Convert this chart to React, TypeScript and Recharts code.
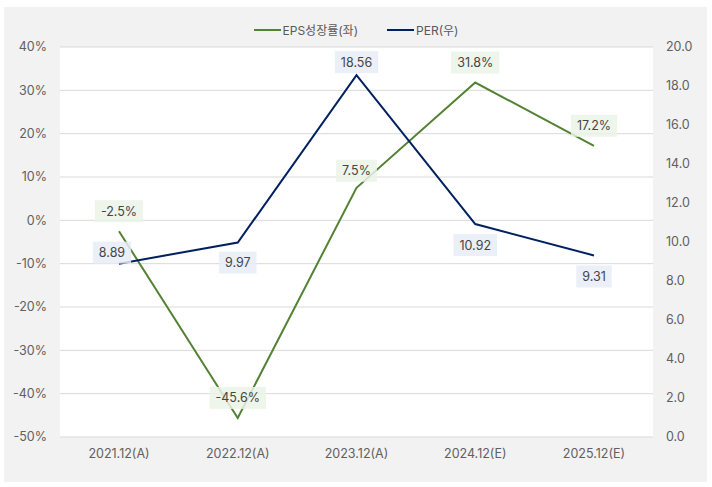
import React from 'react';
import { LineChart, Line, XAxis, YAxis, CartesianGrid, Legend, LabelList } from 'recharts';

const categories = ['2021.12(A)', '2022.12(A)', '2023.12(A)', '2024.12(E)', '2025.12(E)'];
const epsGrowth = [-2.5, -45.6, 7.5, 31.8, 17.2];
const per = [8.89, 9.97, 18.56, 10.92, 9.31];
const leftTicks = [-50, -40, -30, -20, -10, 0, 10, 20, 30, 40];
const rightTicks = [0, 2, 4, 6, 8, 10, 12, 14, 16, 18, 20];
const seriesNames = { eps: 'EPS성장률(좌)', per: 'PER(우)' };

const data = categories.map((c, i) => ({ cat: c, eps: epsGrowth[i], per: per[i] }));

const FONT = "Inter, 'Noto Sans CJK KR', sans-serif";
const GREEN = '#548235';
const NAVY = '#002060';
const TICK = { fill: '#606060', fontSize: 12.5, fontFamily: FONT };

const EPS_OFFSETS = [
  { dx: 0, dy: -20 }, { dx: 0, dy: -20 }, { dx: 0, dy: -17 }, { dx: 0, dy: -20 }, { dx: 0, dy: -20 },
];
const PER_OFFSETS = [
  { dx: -7, dy: -11 }, { dx: 0, dy: 20 }, { dx: 0, dy: -13 }, { dx: 0, dy: 21 }, { dx: 0, dy: 21 },
];

let ctx: CanvasRenderingContext2D | null = null;
const measure = (t: string) => {
  if (!ctx) ctx = document.createElement('canvas').getContext('2d');
  if (!ctx) return t.length * 7;
  ctx.font = `12.5px ${FONT}`;
  return ctx.measureText(t).width;
};

const makeLabel = (fmt: (v: number) => string, bg: string, offsets: { dx: number; dy: number }[]) =>
  (props: any) => {
    const { x, y, value, index } = props;
    const o = offsets[index] || { dx: 0, dy: -20 };
    const text = fmt(Number(value));
    const w = measure(text) + 12;
    const h = 22;
    const cx = x + o.dx;
    const cy = y + o.dy;
    return (
      <g>
        <rect x={cx - w / 2} y={cy - h / 2} width={w} height={h} fill={bg} fillOpacity={0.85} />
        <text x={cx} y={cy} dy="0.36em" textAnchor="middle" fill="#454545" fontSize={12.5} fontFamily={FONT}>
          {text}
        </text>
      </g>
    );
  };

const renderLegend = () => (
  <div style={{ display: 'flex', justifyContent: 'center', alignItems: 'center', fontFamily: FONT, fontSize: 12, color: '#595959' }}>
    {[{ n: seriesNames.eps, c: GREEN }, { n: seriesNames.per, c: NAVY }].map((s, i) => (
      <div key={s.n} style={{ display: 'flex', alignItems: 'center', marginLeft: i ? 29 : 0 }}>
        <span style={{ display: 'inline-block', width: 27, height: 2, background: s.c, marginRight: 2 }} />
        <span>{s.n}</span>
      </div>
    ))}
  </div>
);

export default function App() {
  return (
    <div style={{ position: 'absolute', left: 0, top: 0, width: 712, height: 487, background: '#ffffff' }}>
      <div style={{ position: 'absolute', left: 4, top: 7, width: 703, height: 475, background: '#f2f2f2' }} />
      <div style={{ position: 'absolute', left: 0, top: 0 }}>
        <LineChart width={712} height={487} data={data} margin={{ top: 47, right: 0, bottom: 20, left: 0 }}>
          <CartesianGrid yAxisId="left" vertical={false} stroke="#d9d9d9" fill="#ffffff" />
          <XAxis
            dataKey="cat"
            height={30}
            axisLine={false}
            tickLine={false}
            tick={TICK}
            tickMargin={6}
            padding={{ left: 59, right: 59 }}
            interval={0}
          />
          <YAxis
            yAxisId="left"
            orientation="left"
            width={60}
            domain={[-50, 40]}
            ticks={leftTicks}
            tickFormatter={(v: number) => `${v}%`}
            axisLine={false}
            tickLine={false}
            tick={TICK}
            tickMargin={7}
            interval={0}
          />
          <YAxis
            yAxisId="right"
            orientation="right"
            width={59}
            domain={[0, 20]}
            ticks={rightTicks}
            tickFormatter={(v: number) => v.toFixed(1)}
            axisLine={false}
            tickLine={false}
            tick={TICK}
            tickMargin={7}
            interval={0}
          />
          <Legend verticalAlign="middle" align="center" wrapperStyle={{ top: 21, left: 0, width: 712 }} content={renderLegend} />
          <Line yAxisId="left" dataKey="eps" name={seriesNames.eps} stroke={GREEN} strokeWidth={2} dot={false} isAnimationActive={false}>
            <LabelList dataKey="eps" content={makeLabel((v) => `${v.toFixed(1)}%`, '#ebf3e6', EPS_OFFSETS)} />
          </Line>
          <Line yAxisId="right" dataKey="per" name={seriesNames.per} stroke={NAVY} strokeWidth={2} dot={false} isAnimationActive={false}>
            <LabelList dataKey="per" content={makeLabel((v) => v.toFixed(2), '#e8ecf7', PER_OFFSETS)} />
          </Line>
        </LineChart>
      </div>
    </div>
  );
}
